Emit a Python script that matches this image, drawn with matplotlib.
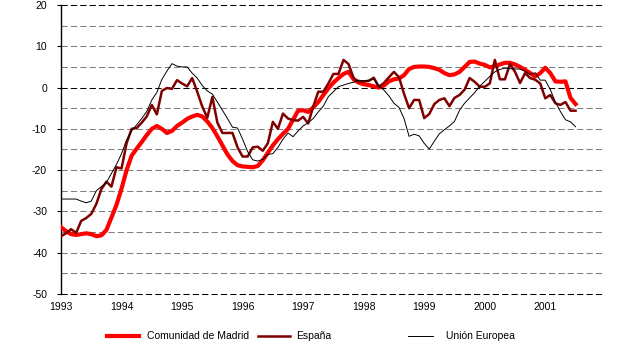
import numpy as np
import matplotlib
matplotlib.use("Agg")
import matplotlib.pyplot as plt
from matplotlib.lines import Line2D

plt.rcParams['font.family'] = ['Liberation Sans', 'DejaVu Sans']
plt.rcParams['axes.unicode_minus'] = False

# monthly series, Jan 1993 - Jul 2001
madrid = [-33.8, -34.8, -35.5, -35.7, -35.5, -35.3, -35.5, -36.0, -35.8, -34.5,
          -31.5, -28.4, -24.5, -20.0, -16.5, -14.8, -13.2, -11.5, -10.0, -9.3,
          -10.0, -11.0, -10.5, -9.3, -8.5, -7.6, -7.0, -6.6, -7.0, -8.2,
          -9.8, -11.8, -14.0, -16.2, -17.8, -18.8, -19.1, -19.2, -19.3, -19.0,
          -17.6, -15.8, -14.0, -12.5, -11.2, -10.0, -7.8, -5.6, -5.5, -5.9,
          -4.8, -3.5, -1.8, -0.2, 1.2, 2.3, 3.3, 3.8, 2.0, 1.2,
          0.8, 0.6, 0.3, 0.0, 0.5, 1.5, 2.0, 2.2, 3.0, 4.5,
          5.0, 5.1, 5.1, 5.0, 4.7, 4.3, 3.5, 3.0, 3.2, 3.8,
          5.0, 6.2, 6.3, 5.8, 5.5, 4.9, 5.2, 5.6, 6.0, 6.0,
          5.6, 5.0, 4.3, 3.5, 2.7, 3.5, 4.8, 3.5, 1.5, 1.4,
          1.5, -2.5, -4.0]
espana = [-36.0, -35.3, -34.3, -35.2, -32.3, -31.6, -30.6, -28.2, -24.6, -22.8,
          -24.0, -19.3, -19.6, -13.5, -10.0, -9.8, -8.5, -7.0, -4.2, -6.5,
          -0.8, -0.1, -0.3, 1.8, 1.0, 0.3, 2.3, -1.0, -4.6, -7.3,
          -2.3, -8.5, -11.0, -11.0, -11.0, -14.5, -16.7, -16.7, -14.5, -14.3,
          -15.3, -13.5, -8.3, -10.0, -6.3, -7.5, -7.9, -8.0, -7.1, -8.7,
          -4.6, -1.0, -1.0, 1.0, 3.3, 3.3, 6.7, 5.7, 2.3, 1.4,
          1.5, 1.6, 2.4, 0.2, 1.1, 2.5, 3.8, 2.5, -1.5, -5.0,
          -3.0, -3.0, -7.4, -6.4, -4.0, -3.0, -2.6, -4.5, -2.5, -1.8,
          -0.5, 2.3, 1.4, 0.2, 0.2, 1.0, 6.7, 2.0, 2.0, 5.7,
          3.8, 1.1, 3.5, 2.3, 1.9, 1.0, -2.6, -1.8, -3.8, -4.2,
          -3.5, -5.6, -5.6]
ue = [-27.0, -27.0, -27.0, -27.0, -27.5, -27.9, -27.5, -25.0, -24.0, -23.0,
      -20.8, -18.6, -16.0, -12.7, -10.5, -9.0, -7.5, -5.8, -3.0, -1.2,
      2.0, 4.0, 5.8, 5.2, 5.0, 5.0, 3.5, 2.3, 0.5, -0.8,
      -1.6, -3.5, -5.5, -7.5, -9.6, -9.8, -12.5, -15.5, -17.5, -17.8,
      -17.4, -16.2, -16.0, -14.5, -12.5, -11.0, -11.9, -10.5, -9.3, -8.5,
      -7.5, -5.9, -4.5, -2.2, -1.0, 0.2, 0.6, 1.0, 1.3, 1.8,
      1.6, 1.8, 2.0, 0.4, -0.6, -2.0, -3.8, -4.8, -7.5, -11.8,
      -11.3, -11.7, -13.5, -14.9, -13.0, -11.2, -10.2, -9.3, -8.2, -5.5,
      -3.8, -2.5, -1.2, 0.3, 1.5, 2.7, 3.8, 4.4, 4.7, 4.6,
      4.5, 4.5, 4.0, 3.2, 3.6, 1.8, 1.8, -0.5, -3.5, -5.8,
      -7.8, -8.3, -9.5]
years = [1993, 1994, 1995, 1996, 1997, 1998, 1999, 2000, 2001]
labels = ["Comunidad de Madrid", "España", "Unión Europea"]

t = 1993 + np.arange(len(madrid)) / 12.0

fig = plt.figure(figsize=(6.4, 3.59), dpi=100)
ax = fig.add_axes([61 / 640, 1 - 294 / 359, 543 / 640, 289 / 359])

# grid
for v in range(-45, 20, 5):
    if v == 0:
        continue
    ax.axhline(v, color='#808080', lw=0.75, dashes=(6, 3), zorder=1)
for v in (20, 0, -50):
    ax.axhline(v, color='black', lw=0.75, dashes=(6, 3), zorder=1, clip_on=False)

ax.plot(t, madrid, color='#ff0000', lw=3.0, zorder=3, solid_joinstyle='round')
ax.plot(t, espana, color='#800000', lw=1.8, zorder=4)
ax.plot(t, ue, color='black', lw=0.7, zorder=5)

ax.set_xlim(1993, 2001.97)
ax.set_ylim(-50, 20)
ax.set_xticks(years)
ax.set_xticklabels([str(y) for y in years])
ax.set_yticks(range(-50, 21, 10))
ax.tick_params(axis='x', length=0, pad=6, labelsize=7.5)
ax.tick_params(axis='y', length=3, pad=7, labelsize=7.5)
for s in ('top', 'right', 'bottom'):
    ax.spines[s].set_visible(False)
ax.spines['left'].set_linewidth(1.0)

# legend
ly = 1 - 336 / 359
handles = [(107, 139, '#ff0000', 3.0, 147), (258, 290, '#800000', 1.8, 296),
           (408, 433, 'black', 0.7, 446)]
for (x0, x1, c, lw, tx), lab in zip(handles, labels):
    fig.add_artist(Line2D([x0 / 640, x1 / 640], [ly, ly], color=c, lw=lw))
    fig.text(tx / 640, ly, lab, va='center', ha='left', fontsize=7.5)

fig.savefig("out.png", dpi=100)
